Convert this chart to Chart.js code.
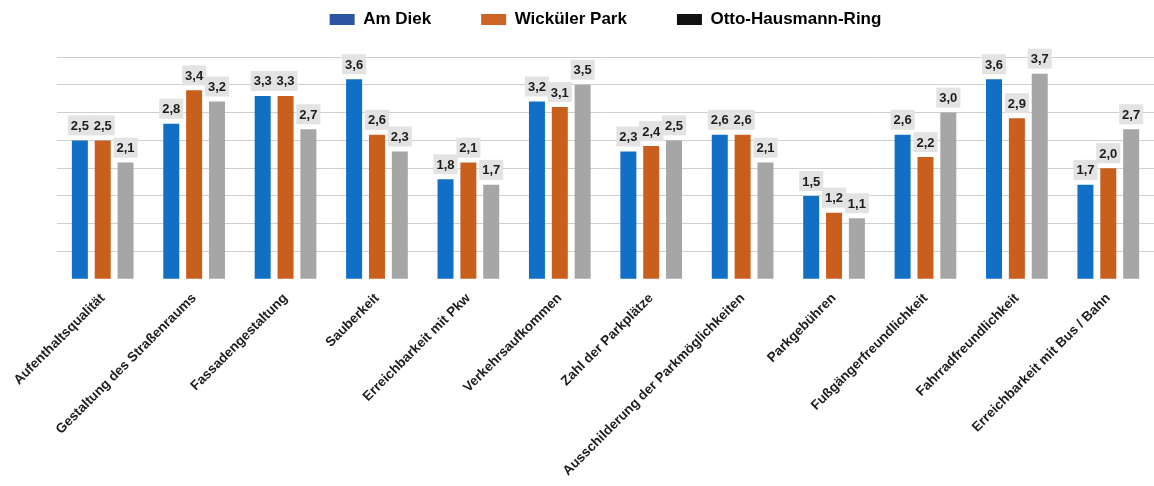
<!DOCTYPE html>
<html>
<head>
<meta charset="utf-8">
<script src="https://cdn.jsdelivr.net/npm/chart.js@4"></script>
<style>
  html, body { margin: 0; padding: 0; background: #fff; }
  #wrap { width: 1154px; height: 486px; }
</style>
</head>
<body>
<div id="wrap"><canvas id="rating-chart"></canvas></div>
<script>
const categories = [
  'Aufenthaltsqualität',
  'Gestaltung des Straßenraums',
  'Fassadengestaltung',
  'Sauberkeit',
  'Erreichbarkeit mit Pkw',
  'Verkehrsaufkommen',
  'Zahl der Parkplätze',
  'Ausschilderung der Parkmöglichkeiten',
  'Parkgebühren',
  'Fußgängerfreundlichkeit',
  'Fahrradfreundlichkeit',
  'Erreichbarkeit mit Bus / Bahn'
];
const seriesNames = ['Am Diek', 'Wicküler Park', 'Otto-Hausmann-Ring'];
const amDiek = [2.5, 2.8, 3.3, 3.6, 1.8, 3.2, 2.3, 2.6, 1.5, 2.6, 3.6, 1.7];
const wickuelerPark = [2.5, 3.4, 3.3, 2.6, 2.1, 3.1, 2.4, 2.6, 1.2, 2.2, 2.9, 2.0];
const ottoHausmannRing = [2.1, 3.2, 2.7, 2.3, 1.7, 3.5, 2.5, 2.1, 1.1, 3.0, 3.7, 2.7];

const barColors = ['#1170c6', '#c95f1d', '#a6a6a6'];
const legendColors = ['#2b55a3', '#cc6424', '#111111'];
const fontFamily = '"Liberation Sans", Arial, sans-serif';

// value boxes above every bar, decimal comma
const valueLabels = {
  id: 'valueLabels',
  afterDatasetsDraw(chart) {
    const { ctx } = chart;
    ctx.save();
    ctx.font = `bold 13px ${fontFamily}`;
    ctx.textAlign = 'center';
    ctx.textBaseline = 'middle';
    chart.data.datasets.forEach((ds, i) => {
      chart.getDatasetMeta(i).data.forEach((bar, j) => {
        const text = ds.data[j].toFixed(1).replace('.', ',');
        const w = ctx.measureText(text).width + 6;
        const h = 20;
        const bottom = bar.y - 5;
        ctx.fillStyle = '#e3e3e3';
        ctx.fillRect(bar.x - w / 2, bottom - h, w, h);
        ctx.fillStyle = '#1c1c1c';
        ctx.fillText(text, bar.x, bottom - h / 2 + 1);
      });
    });
    ctx.restore();
  }
};

// extra room between legend and plot
const legendGap = {
  id: 'legendGap',
  beforeInit(chart) {
    const fit = chart.legend.fit;
    chart.legend.fit = function fitWithGap() {
      fit.bind(chart.legend)();
      this.height += 19;
    };
  }
};

const ctx = document.getElementById('rating-chart').getContext('2d');
const chart = new Chart(ctx, {
  type: 'bar',
  data: {
    labels: categories,
    datasets: [amDiek, wickuelerPark, ottoHausmannRing].map((values, i) => ({
      label: seriesNames[i],
      data: values,
      backgroundColor: barColors[i],
      categoryPercentage: 0.75,
      barPercentage: 0.7
    }))
  },
  options: {
    responsive: true,
    maintainAspectRatio: false,
    animation: false,
    layout: { padding: { left: 57, right: 0, top: -39, bottom: 4 } },
    plugins: {
      legend: {
        position: 'top',
        labels: {
          boxWidth: 25,
          boxHeight: 11,
          padding: 50,
          color: '#1c1c1c',
          font: { family: fontFamily, size: 17, weight: 'bold' },
          generateLabels: (c) => c.data.datasets.map((ds, i) => ({
            text: ds.label,
            fillStyle: legendColors[i],
            strokeStyle: legendColors[i],
            lineWidth: 0,
            datasetIndex: i
          }))
        }
      },
      tooltip: { enabled: false }
    },
    scales: {
      x: {
        grid: { display: false },
        border: { display: false },
        ticks: {
          minRotation: 45,
          maxRotation: 45,
          padding: 3,
          color: '#1c1c1c',
          font: { family: fontFamily, size: 13.5, weight: 'bold' }
        }
      },
      y: {
        min: 0,
        max: 4,
        border: { display: false },
        grid: {
          drawTicks: false,
          color: (c) => (c.tick && c.tick.value === 0 ? 'rgba(0,0,0,0)' : '#cfcfcf')
        },
        ticks: { display: false, stepSize: 0.5 }
      }
    }
  },
  plugins: [valueLabels, legendGap]
});
</script>
</body>
</html>
